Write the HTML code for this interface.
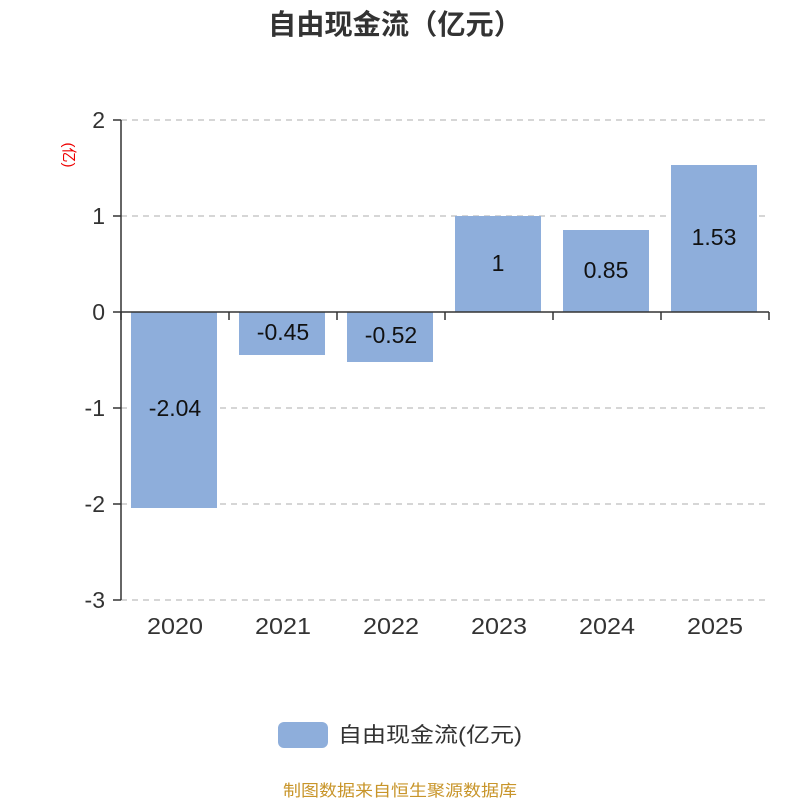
<!DOCTYPE html>
<html><head><meta charset="utf-8"><style>
html,body{margin:0;padding:0;background:#fff;}
svg{display:block;}
text{font-family:"Liberation Sans","Noto Sans CJK SC",sans-serif;}
</style></head><body>
<svg width="800" height="800" viewBox="0 0 800 800" xmlns="http://www.w3.org/2000/svg">
<text x="268" y="34" font-size="28" font-weight="bold" fill="#333" textLength="254" lengthAdjust="spacingAndGlyphs">自由现金流（亿元）</text>
<text transform="translate(64,155) rotate(90)" text-anchor="middle" font-size="15" fill="#e00">(亿)</text>
<g stroke="#c8c8c8" stroke-width="1.5" stroke-dasharray="6,5">
<line x1="121" y1="120" x2="769" y2="120"/>
<line x1="121" y1="216" x2="769" y2="216"/>
<line x1="121" y1="408" x2="769" y2="408"/>
<line x1="121" y1="504" x2="769" y2="504"/>
<line x1="121" y1="600" x2="769" y2="600"/>
</g>
<g fill="#8eaedb">
<rect x="131" y="312" width="86" height="196"/>
<rect x="239" y="312" width="86" height="43"/>
<rect x="347" y="312" width="86" height="50"/>
<rect x="455" y="216" width="86" height="96"/>
<rect x="563" y="230" width="86" height="82"/>
<rect x="671" y="165" width="86" height="147"/>
</g>
<g stroke="#333" stroke-width="1.5">
<line x1="121" y1="120" x2="121" y2="600"/>
<line x1="113" y1="120" x2="121" y2="120"/>
<line x1="113" y1="216" x2="121" y2="216"/>
<line x1="113" y1="312" x2="121" y2="312"/>
<line x1="113" y1="408" x2="121" y2="408"/>
<line x1="113" y1="504" x2="121" y2="504"/>
<line x1="113" y1="600" x2="121" y2="600"/>
<line x1="121" y1="312" x2="769" y2="312"/>
<line x1="121" y1="312" x2="121" y2="320"/>
<line x1="229" y1="312" x2="229" y2="320"/>
<line x1="337" y1="312" x2="337" y2="320"/>
<line x1="445" y1="312" x2="445" y2="320"/>
<line x1="553" y1="312" x2="553" y2="320"/>
<line x1="661" y1="312" x2="661" y2="320"/>
<line x1="769" y1="312" x2="769" y2="320"/>
</g>
<g font-size="23" fill="#333" text-anchor="end">
<text x="105" y="128">2</text>
<text x="105" y="224">1</text>
<text x="105" y="320">0</text>
<text x="105" y="416">-1</text>
<text x="105" y="512">-2</text>
<text x="105" y="608">-3</text>
</g>
<g font-size="23" fill="#333">
<text x="147" y="634" textLength="56" lengthAdjust="spacingAndGlyphs">2020</text>
<text x="255" y="634" textLength="56" lengthAdjust="spacingAndGlyphs">2021</text>
<text x="363" y="634" textLength="56" lengthAdjust="spacingAndGlyphs">2022</text>
<text x="471" y="634" textLength="56" lengthAdjust="spacingAndGlyphs">2023</text>
<text x="579" y="634" textLength="56" lengthAdjust="spacingAndGlyphs">2024</text>
<text x="687" y="634" textLength="56" lengthAdjust="spacingAndGlyphs">2025</text>
</g>
<g font-size="23" fill="#111" text-anchor="middle">
<text x="175" y="416">-2.04</text>
<text x="283" y="340">-0.45</text>
<text x="391" y="343">-0.52</text>
<text x="498" y="271">1</text>
<text x="606" y="278">0.85</text>
<text x="714" y="245">1.53</text>
</g>
<rect x="278" y="722" width="50" height="26" rx="6" fill="#8eaedb"/>
<text x="338" y="742" font-size="21" fill="#333" textLength="184" lengthAdjust="spacingAndGlyphs">自由现金流(亿元)</text>
<text x="283" y="796" font-size="16" fill="#c8952a" textLength="234" lengthAdjust="spacingAndGlyphs">制图数据来自恒生聚源数据库</text>
</svg>
</body></html>
